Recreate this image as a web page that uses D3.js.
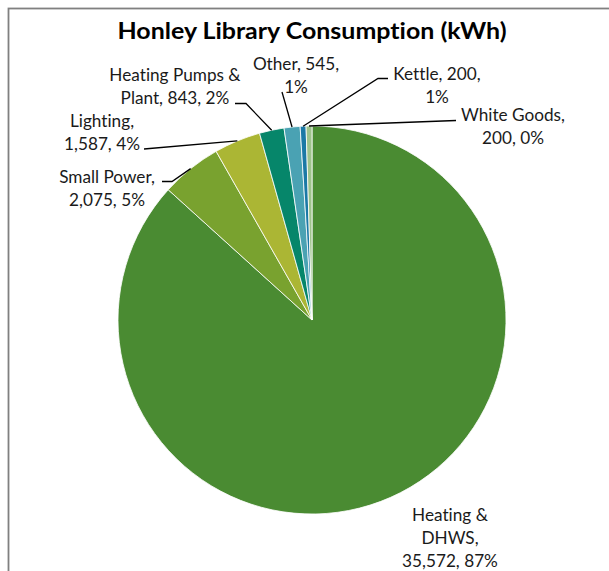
<!DOCTYPE html>
<html>
<head>
<meta charset="utf-8">
<script src="https://cdn.jsdelivr.net/npm/d3@7"></script>
<style>
  html, body { margin: 0; padding: 0; background: #fff; }
  svg { display: block; }
  text { font-variant-ligatures: none; }
</style>
</head>
<body>
<script>
// Energy use by end use, kWh
const categories = ["Heating & DHWS", "Small Power", "Lighting", "Heating Pumps & Plant", "Other", "Kettle", "White Goods"];
const values = [35572, 2075, 1587, 843, 545, 200, 200];
const percentLabels = ["87%", "5%", "4%", "2%", "1%", "1%", "0%"];
const colors = ["#4a8b32", "#79a22f", "#abb634", "#06866a", "#4aa2b3", "#1b79a6", "#9dc38b"];

// Label text lines and placement for each slice
const labelLines = [
  ["Heating &", "DHWS,", "35,572, 87%"],
  ["Small Power,", "2,075, 5%"],
  ["Lighting,", "1,587, 4%"],
  ["Heating Pumps &", "Plant, 843, 2%"],
  ["Other, 545,", "1%"],
  ["Kettle, 200,", "1%"],
  ["White Goods,", "200, 0%"]
];
const labelCenters = [[450, 515], [107, 177], [102, 121], [175, 75], [296, 64], [437, 74], [513, 115]];
// leader polylines: elbow then end (null = no leader)
const leaderPaths = [
  null,
  [[172, 181.5], [162, 181.5]],
  [[144, 149]],
  [[246, 103.5], [235, 103.5]],
  [[282, 92]],
  [[378, 78.5], [388, 78.5]],
  [[456, 120.5]]
];

const W = 609, H = 571;
const cx = 312, cy = 320, R = 194;
const font = "Lato, 'Open Sans', sans-serif";

const svg = d3.select("body").append("svg").attr("width", W).attr("height", H);

// chart frame
svg.append("rect")
  .attr("x", 8.5).attr("y", 8.5)
  .attr("width", W + 10).attr("height", H + 10)
  .attr("fill", "#fff").attr("stroke", "#808080").attr("stroke-width", 1.8);

svg.append("text")
  .attr("x", 312).attr("y", 38.5)
  .attr("text-anchor", "middle")
  .attr("font-family", font).attr("font-weight", 700)
  .attr("font-size", 23).attr("fill", "#000")
  .attr("textLength", 389).attr("lengthAdjust", "spacingAndGlyphs")
  .text("Honley Library Consumption (kWh)");

const data = categories.map((c, i) => ({ name: c, value: values[i], color: colors[i], idx: i }));

const pie = d3.pie().value(d => d.value).sort(null);
const arcs = pie(data);
const arc = d3.arc().innerRadius(0).outerRadius(R);

const g = svg.append("g").attr("transform", `translate(${cx},${cy})`);
g.selectAll("path.slice")
  .data(arcs)
  .join("path")
  .attr("class", "slice")
  .attr("d", arc)
  .attr("fill", d => d.data.color)
  .attr("stroke", "#fff")
  .attr("stroke-width", 0.8);

// leader lines from the slice edge at its mid angle
arcs.forEach((a, i) => {
  const lp = leaderPaths[i];
  if (!lp) return;
  const mid = (a.startAngle + a.endAngle) / 2;
  const start = [cx + R * Math.sin(mid), cy - R * Math.cos(mid)];
  const pts = [start, ...lp];
  svg.append("path")
    .attr("d", d3.line()(pts))
    .attr("fill", "none")
    .attr("stroke", "#000")
    .attr("stroke-width", 1.3);
});

// data labels
labelLines.forEach((lines, i) => {
  const [x, y] = labelCenters[i];
  const t = svg.append("text")
    .attr("text-anchor", "middle")
    .attr("font-family", font)
    .attr("font-size", 17.2)
    .attr("fill", "#1a1a1a");
  lines.forEach((ln, k) => {
    t.append("tspan")
      .attr("x", x)
      .attr("y", y + k * 23 + 5.8)
      .text(ln);
  });
});
</script>
</body>
</html>
